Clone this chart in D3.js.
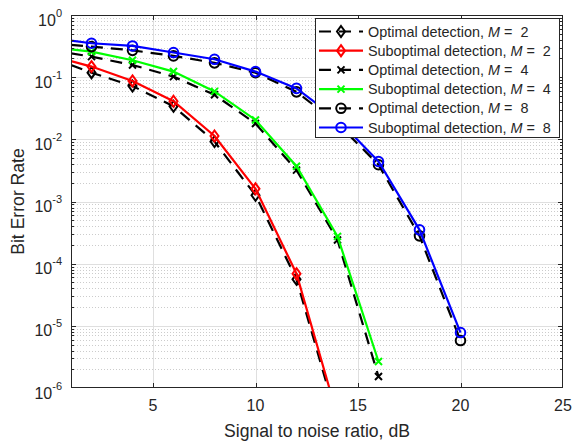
<!DOCTYPE html>
<html lang="en">
  <head>
    <meta charset="utf-8">
    <script src="https://cdn.jsdelivr.net/npm/d3@7"></script>
    <style>
      body { margin: 0; background: #fff; }
      text { font-family: "Liberation Sans", Arial, Helvetica, sans-serif; fill: #262626; }
    </style>
  </head>
  <body>
    <svg id="chart" width="573" height="443"></svg>
    <script type="text/javascript">

    // SNR points (dB); markers only on even values
    var snr = [1, 2, 4, 6, 8, 10, 12, 14, 16, 18, 20];

    var optM2 = [0.157, 0.118, 0.072, 0.034, 0.0092, 0.00126, 5.6e-5, 2.9e-7];
    var subM2 = [0.182, 0.148, 0.087, 0.041, 0.0113, 0.0016, 6.9e-5, 3.5e-7];
    var optM4 = [0.242, 0.214, 0.157, 0.102, 0.052, 0.018, 0.0032, 2.4e-4, 1.53e-6];
    var subM4 = [0.281, 0.257, 0.187, 0.123, 0.059, 0.0205, 0.0037, 2.75e-4, 2.67e-6];
    var optM8 = [0.33, 0.31, 0.27, 0.22, 0.17, 0.118, 0.058, 0.018, 0.0039, 2.8e-4, 5.8e-6];
    var subM8 = [0.386, 0.351, 0.318, 0.249, 0.194, 0.123, 0.066, 0.021, 0.0044, 3.5e-4, 7.8e-6];

    var seriesNames = ["Optimal detection, ", "Suboptimal detection, ",
                       "Optimal detection, ", "Suboptimal detection, ",
                       "Optimal detection, ", "Suboptimal detection, "];
    var seriesM = [2, 2, 4, 4, 8, 8];
    var seriesValues = [optM2, subM2, optM4, subM4, optM8, subM8];

    var xTicks = [5, 10, 15, 20, 25];
    var yExponents = [0, -1, -2, -3, -4, -5, -6];

    var styles = [
      {color: "#000", dash: "12,8", marker: "diamond"},
      {color: "#ff0000", dash: null, marker: "diamond"},
      {color: "#000", dash: "12,8", marker: "cross"},
      {color: "#00ff00", dash: null, marker: "cross"},
      {color: "#000", dash: "12,8", marker: "circle"},
      {color: "#0000ff", dash: null, marker: "circle"}
    ];

    var pLeft = 71, pRight = 563, pTop = 15, pBottom = 388;
    var axisColor = "#262626";

    var svg = d3.select("#chart");

    var x = d3.scaleLinear().domain([1, 25]).range([pLeft, pRight]);
    var y = d3.scaleLog().domain([1e-6, 1]).range([pBottom, pTop]);

    svg.append("defs").append("clipPath").attr("id", "plotclip")
      .append("rect")
      .attr("x", pLeft).attr("y", pTop)
      .attr("width", pRight - pLeft).attr("height", pBottom - pTop);

    // minor grid (log y)
    var minorVals = [];
    for (var e = -6; e < 0; e++) {
      for (var k = 2; k <= 9; k++) minorVals.push(k * Math.pow(10, e));
    }
    svg.append("g").selectAll("line").data(minorVals).enter().append("line")
      .attr("x1", pLeft).attr("x2", pRight)
      .attr("y1", function(d) { return Math.round(y(d)) + 0.5; })
      .attr("y2", function(d) { return Math.round(y(d)) + 0.5; })
      .attr("stroke", "#cccccc").attr("stroke-width", 1)
      .attr("stroke-dasharray", "1,2");

    // major grid
    var majorY = yExponents.map(function(p) { return Math.pow(10, p); });
    svg.append("g").selectAll("line").data(majorY.slice(1, -1)).enter().append("line")
      .attr("x1", pLeft).attr("x2", pRight)
      .attr("y1", function(d) { return Math.round(y(d)) + 0.5; })
      .attr("y2", function(d) { return Math.round(y(d)) + 0.5; })
      .attr("stroke", "#dfdfdf").attr("stroke-width", 1);
    svg.append("g").selectAll("line").data(xTicks.slice(0, -1)).enter().append("line")
      .attr("x1", function(d) { return Math.round(x(d)) + 0.5; })
      .attr("x2", function(d) { return Math.round(x(d)) + 0.5; })
      .attr("y1", pTop).attr("y2", pBottom)
      .attr("stroke", "#dfdfdf").attr("stroke-width", 1);

    // series
    var plot = svg.append("g").attr("clip-path", "url(#plotclip)");
    var line = d3.line()
      .x(function(d) { return x(d.snr); })
      .y(function(d) { return y(d.ber); });

    var drawMarker = function(g, type, cx, cy, color) {
      if (type === "diamond") {
        g.append("path")
          .attr("d", "M" + cx + "," + (cy - 5.5) + "L" + (cx + 4) + "," + cy +
                     "L" + cx + "," + (cy + 5.5) + "L" + (cx - 4) + "," + cy + "Z")
          .attr("fill", "none").attr("stroke", color).attr("stroke-width", 2);
      } else if (type === "circle") {
        g.append("circle").attr("cx", cx).attr("cy", cy).attr("r", 4.8)
          .attr("fill", "none").attr("stroke", color).attr("stroke-width", 2);
      } else {
        g.append("path")
          .attr("d", "M" + (cx - 3.5) + "," + (cy - 3.5) + "L" + (cx + 3.5) + "," + (cy + 3.5) +
                     "M" + (cx - 3.5) + "," + (cy + 3.5) + "L" + (cx + 3.5) + "," + (cy - 3.5))
          .attr("fill", "none").attr("stroke", color).attr("stroke-width", 2);
      }
    };

    seriesValues.forEach(function(vals, i) {
      var st = styles[i];
      var pts = vals.map(function(v, j) { return {snr: snr[j], ber: v}; });
      plot.append("path")
        .datum(pts)
        .attr("d", line)
        .attr("fill", "none")
        .attr("stroke", st.color)
        .attr("stroke-width", 2.2)
        .attr("stroke-dasharray", st.dash);
      var mg = plot.append("g");
      pts.forEach(function(p) {
        if (p.snr % 2 === 0) drawMarker(mg, st.marker, x(p.snr), y(p.ber), st.color);
      });
    });

    // axes box
    svg.append("rect")
      .attr("x", pLeft + 0.5).attr("y", pTop + 0.5)
      .attr("width", pRight - pLeft - 1).attr("height", pBottom - pTop - 1)
      .attr("fill", "none").attr("stroke", axisColor).attr("stroke-width", 1);

    // x ticks (inside, bottom and top)
    var tickG = svg.append("g").attr("stroke", axisColor).attr("stroke-width", 1);
    xTicks.slice(0, -1).forEach(function(t) {
      var px = Math.round(x(t)) + 0.5;
      tickG.append("line").attr("x1", px).attr("x2", px).attr("y1", pBottom).attr("y2", pBottom - 5);
      tickG.append("line").attr("x1", px).attr("x2", px).attr("y1", pTop).attr("y2", pTop + 5);
    });
    // y ticks
    majorY.slice(1, -1).forEach(function(t) {
      var py = Math.round(y(t)) + 0.5;
      tickG.append("line").attr("x1", pLeft).attr("x2", pLeft + 5).attr("y1", py).attr("y2", py);
      tickG.append("line").attr("x1", pRight).attr("x2", pRight - 5).attr("y1", py).attr("y2", py);
    });
    minorVals.forEach(function(t) {
      var py = Math.round(y(t)) + 0.5;
      tickG.append("line").attr("x1", pLeft).attr("x2", pLeft + 3).attr("y1", py).attr("y2", py);
      tickG.append("line").attr("x1", pRight).attr("x2", pRight - 3).attr("y1", py).attr("y2", py);
    });

    // tick labels
    svg.append("g").selectAll("text").data(xTicks).enter().append("text")
      .attr("x", function(d) { return x(d); })
      .attr("y", pBottom + 23)
      .attr("text-anchor", "middle")
      .attr("font-size", "16px")
      .text(function(d) { return d; });

    var yl = svg.append("g").selectAll("text").data(yExponents).enter().append("text")
      .attr("x", 62)
      .attr("y", function(d) { return y(Math.pow(10, d)) + 10.5; })
      .attr("text-anchor", "end")
      .attr("font-size", "16px");
    yl.append("tspan").text("10");
    yl.append("tspan").attr("dy", -9).attr("font-size", "11px")
      .text(function(d) { return d === 0 ? "0" : "-" + Math.abs(d); });

    // axis labels
    svg.append("text")
      .attr("x", (pLeft + pRight) / 2).attr("y", 437)
      .attr("text-anchor", "middle").attr("font-size", "17.6px")
      .text("Signal to noise ratio, dB");
    svg.append("text")
      .attr("transform", "translate(24," + ((pTop + pBottom) / 2) + ") rotate(-90)")
      .attr("text-anchor", "middle").attr("font-size", "17.6px")
      .text("Bit Error Rate");

    // legend
    var legend = svg.append("g").attr("class", "legend");
    legend.append("rect")
      .attr("x", 315.5).attr("y", 18.5).attr("width", 244).attr("height", 119)
      .attr("fill", "#fff").attr("stroke", axisColor).attr("stroke-width", 1);
    seriesNames.forEach(function(name, i) {
      var st = styles[i];
      var ly = 31.5 + i * 19.2;
      var g = legend.append("g");
      g.append("line")
        .attr("x1", 319).attr("x2", 363).attr("y1", ly).attr("y2", ly)
        .attr("stroke", st.color).attr("stroke-width", 2.2)
        .attr("stroke-dasharray", st.dash);
      drawMarker(g, st.marker, 341, ly, st.color);
      var t = g.append("text")
        .attr("x", 368).attr("y", ly + 5)
        .attr("font-size", "14.4px")
        .style("white-space", "pre");
      t.append("tspan").text(name);
      t.append("tspan").attr("font-style", "italic").text("M");
      t.append("tspan").text(" =  " + seriesM[i]);
    });

    </script>
  </body>
</html>
